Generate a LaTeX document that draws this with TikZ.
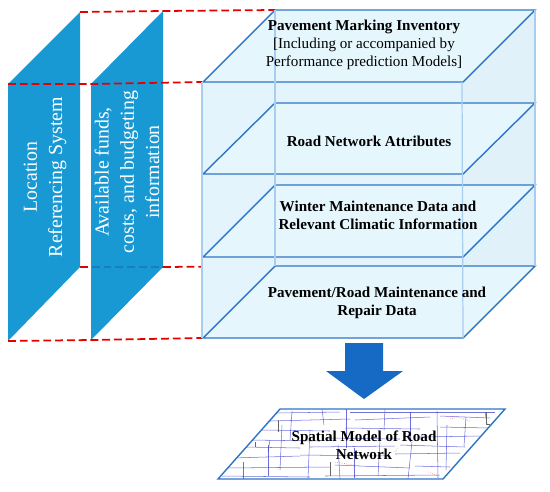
\documentclass[tikz,border=0pt]{standalone}
\usepackage{fontspec}
\setmainfont{Liberation Serif}
\usetikzlibrary{positioning, calc}
\definecolor{PanelBlue}{RGB}{0, 142, 207}
\definecolor{SlabBlue}{RGB}{46, 117, 198}
\definecolor{SlabFill}{RGB}{230, 246, 253}
\definecolor{FrontFill}{RGB}{227, 244, 252}
\definecolor{SideFill}{RGB}{225, 241, 250}
\definecolor{CubeLine}{RGB}{168, 205, 240}
\definecolor{ArrowBlue}{RGB}{22, 106, 196}
\tikzset{
    panelbox/.style={
        fill=PanelBlue,
        fill opacity=0.9,
        draw=none
    },
    paneltext/.style={
        text=white,
        rotate=90,
        align=center,
        font=\fontsize{11.3}{14.4}\selectfont
    },
    slabbox/.style={
        draw=SlabBlue,
        line width=0.8pt,
        fill=SlabFill
    },
    slabtext/.style={
        align=center,
        text=black,
        font=\fontsize{8.6}{10.3}\selectfont\bfseries
    },
    cubeline/.style={
        draw=CubeLine,
        line width=0.7pt
    },
    redlink/.style={
        draw=red!90!black,
        dash pattern=on 4.5pt off 2.2pt,
        line width=1pt
    },
    bigarrow/.style={
        fill=ArrowBlue,
        draw=none
    },
    road/.style={
        draw=blue!60!gray,
        opacity=0.7,
        line width=0.3pt
    },
    roadred/.style={
        draw=red!70,
        line width=0.3pt,
        densely dotted
    },
    roadgray/.style={
        draw=black!60,
        line width=0.3pt
    }
}
\begin{document}
\begin{tikzpicture}[x=0.02cm, y=-0.02cm]
    \useasboundingbox (0,0) rectangle (550,491);

    % corners of the two side panels
    \coordinate (locTL) at (8,84);
    \coordinate (locTR) at (80,12);
    \coordinate (locBR) at (80,267);
    \coordinate (locBL) at (8,341);
    \coordinate (fundTL) at (91,84);
    \coordinate (fundTR) at (163,11);
    \coordinate (fundBR) at (163,267);
    \coordinate (fundBL) at (91,340);

    % corners of the cube
    \coordinate (cubeFTL) at (202,82);
    \coordinate (cubeFTR) at (462,82);
    \coordinate (cubeFBL) at (202,338);
    \coordinate (cubeFBR) at (463,338);
    \coordinate (cubeBTL) at (275,10);
    \coordinate (cubeBTR) at (535,10);
    \coordinate (cubeBBL) at (275,266);
    \coordinate (cubeBBR) at (535,266);

    % red link hidden by the second panel
    \draw[redlink] (locBR) -- (fundBR);

    \fill[panelbox] (locTL) -- (locTR) -- (locBR) -- (locBL) -- cycle;
    \fill[panelbox] (fundTL) -- (fundTR) -- (fundBR) -- (fundBL) -- cycle;

    \draw[redlink] (locTR) -- (fundTR) -- (cubeBTL);
    \draw[redlink] (locTL) -- (fundTL) -- (cubeFTL);
    \draw[redlink] (fundBR) -- (cubeBBL);
    \draw[redlink] (locBL) -- (fundBL) -- (cubeFBL);

    \node[paneltext] (loc) at (45,177) {Location\\Referencing System};
    \node[paneltext] (fund) at (127,172) {Available funds,\\costs, and budgeting\\information};

    % cube faces
    \fill[FrontFill] (cubeFTL) -- (cubeFTR) -- (cubeFBR) -- (cubeFBL) -- cycle;
    \fill[SideFill] (cubeFTR) -- (cubeBTR) -- (cubeBBR) -- (cubeFBR) -- cycle;

    % the four layers
    \foreach \name/\front/\back in {one/82/10, two/174/103, three/257/185, four/338/266}{
        \draw[slabbox] (203,\front) -- (463,\front) -- (535,\back) -- (275,\back) -- cycle;
    }
    \draw[cubeline] (cubeFTL) -- (cubeFBL);
    \draw[cubeline] (cubeFTR) -- (cubeFBR);
    \draw[cubeline] (cubeBTL) -- (cubeBBL);
    \draw[cubeline] (cubeBTR) -- (cubeBBR);

    \node[slabtext] (inventory) at (364,45) {Pavement Marking Inventory\\{\mdseries [Including or accompanied by}\\{\mdseries Performance prediction Models]}};
    \node[slabtext] (attributes) at (369,141) {Road Network Attributes};
    \node[slabtext] (winter) at (378,215) {Winter Maintenance Data and\\Relevant Climatic Information};
    \node[slabtext] (repair) at (377,303) {Pavement/Road Maintenance and\\Repair Data};

    % down arrow
    \fill[bigarrow] (345,343) -- (383,343) -- (383,371) -- (403,371) -- (364,399) -- (326,371) -- (345,371) -- cycle;

    % map of the road network
    \coordinate (mapTL) at (280,409);
    \coordinate (mapTR) at (505,409);
    \coordinate (mapBR) at (443,479);
    \coordinate (mapBL) at (218,479);
    \begin{scope}
        \clip (mapTL) -- (mapTR) -- (mapBR) -- (mapBL) -- cycle;
        \foreach \xa/\ya/\xb/\yb in {
            276/413/340/412, 350/412/495/412, 270/421/350/419, 355/420/430/417, 440/416/490/418,
            262/430/330/431, 345/428/420/429, 440/427/490/428,
            250/440/320/441, 325/438/400/439, 420/437/480/436,
            244/447/300/448, 310/447/395/446, 400/445/465/447,
            232/458/300/456, 300/455/390/456, 395/454/460/453,
            225/468/330/467, 335/465/410/468, 415/466/450/467,
            222/476/310/477, 325/476/440/475,
            292/411/290/440, 282/425/280/470, 268/445/268/476, 243/462/243/479,
            322/409/324/425, 346/409/346/448, 338/445/340/479, 310/430/308/478,
            385/409/384/430, 410/412/410/442, 412/442/408/479, 437/411/438/478,
            466/417/464/446, 447/425/446/470, 380/440/378/476, 354/448/354/478,
            270/440/268/452, 485/412/487/424
        }{
            \draw[road] (\xa,\ya) -- (\xb,\yb);
        }
        \draw[roadgray] (330,462) -- (330,476);
        \draw[roadgray] (278,420) -- (278,432);
        \draw[roadgray] (486,412) -- (486,424) -- (490,424);
        \draw[roadgray] (255,442) -- (255,447);
        \draw[roadred] (450,419) -- (458,417) -- (470,421);
        \draw[roadred] (335,462) -- (360,466);
        \draw[roadred] (428,472) -- (438,476);
        \draw[roadred] (395,452) -- (398,448);
    \end{scope}
    \draw[draw=SlabBlue, line width=0.8pt] (mapTL) -- (mapTR) -- (mapBR) -- (mapBL) -- cycle;
    \node[slabtext] (model) at (364,445) {Spatial Model of Road\\Network};
\end{tikzpicture}
\end{document}
